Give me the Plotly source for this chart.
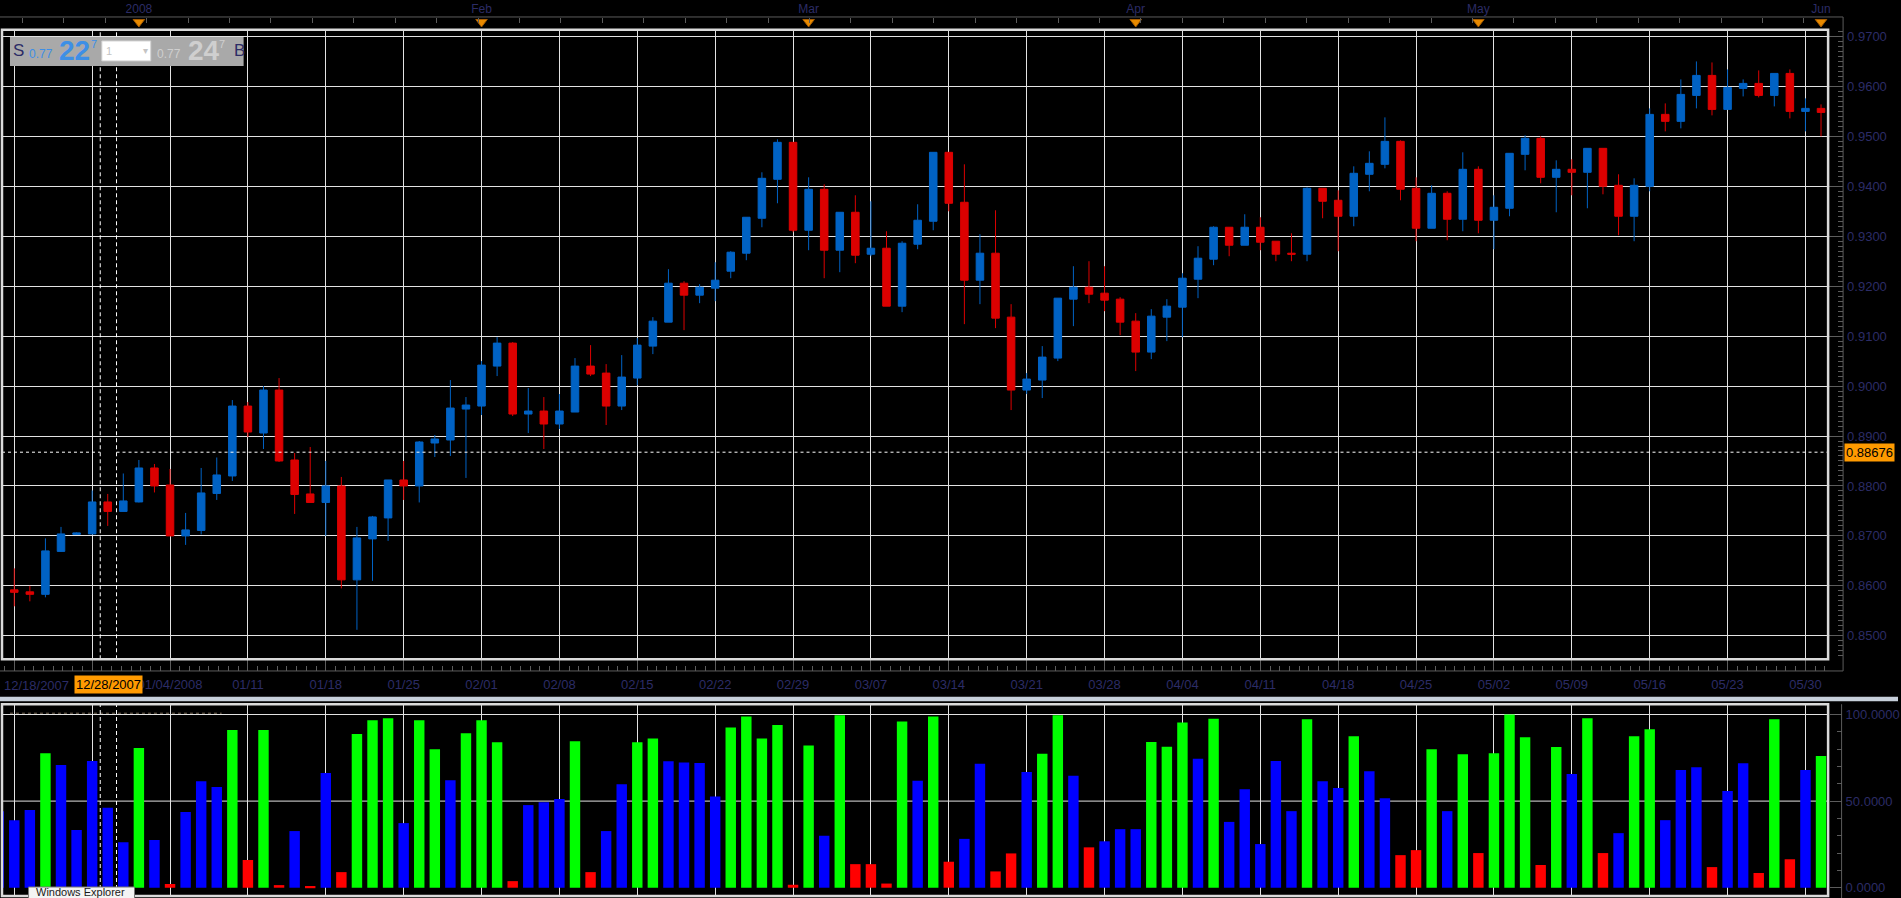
import numpy as np
import pandas as pd
import plotly.graph_objects as go

W, H = 1901, 898

# ---------------- data ----------------
dates = [d.strftime('%m/%d/%Y') for d in pd.bdate_range('2007-12-20', '2008-06-02')]

open_ = [0.8562, 0.8592, 0.8588, 0.8583, 0.8669, 0.8703, 0.8704, 0.8768, 0.8749, 0.8768,
         0.8836, 0.8802, 0.8700, 0.8711, 0.8785, 0.8820, 0.8960, 0.8906, 0.8992, 0.8852,
         0.8784, 0.8767, 0.8800, 0.8612, 0.8694, 0.8736, 0.8812, 0.8800, 0.8886, 0.8892,
         0.8954, 0.8960, 0.9040, 0.9086, 0.8944, 0.8950, 0.8924, 0.8948, 0.9040, 0.9026,
         0.8960, 0.9016, 0.9080, 0.9128, 0.9206, 0.9182, 0.9196, 0.9230, 0.9266, 0.9336,
         0.9414, 0.9488, 0.9312, 0.9394, 0.9272, 0.9348, 0.9264, 0.9276, 0.9160, 0.9284,
         0.9330, 0.9468, 0.9368, 0.9212, 0.9266, 0.9138, 0.8992, 0.9012, 0.9056, 0.9174,
         0.9198, 0.9186, 0.9174, 0.9130, 0.9068, 0.9138, 0.9158, 0.9214, 0.9254, 0.9318,
         0.9282, 0.9318, 0.9290, 0.9266, 0.9264, 0.9396, 0.9372, 0.9340, 0.9424, 0.9444,
         0.9490, 0.9396, 0.9316, 0.9386, 0.9334, 0.9434, 0.9332, 0.9356, 0.9464, 0.9496,
         0.9418, 0.9434, 0.9428, 0.9476, 0.9402, 0.9340, 0.9400, 0.9544, 0.9530, 0.9582,
         0.9622, 0.9554, 0.9596, 0.9606, 0.9582, 0.9626, 0.9550, 0.9556]
high = [0.8597, 0.8635, 0.8600, 0.8695, 0.8718, 0.8707, 0.8791, 0.8784, 0.8825, 0.8852,
        0.8844, 0.8834, 0.8746, 0.8836, 0.8857, 0.8972, 0.8968, 0.9000, 0.9016, 0.8866,
        0.8878, 0.8850, 0.8818, 0.8718, 0.8740, 0.8812, 0.8850, 0.8890, 0.8902, 0.9012,
        0.8978, 0.9050, 0.9098, 0.9088, 0.8996, 0.8978, 0.8984, 0.9056, 0.9082, 0.9044,
        0.9062, 0.9096, 0.9138, 0.9234, 0.9210, 0.9204, 0.9248, 0.9270, 0.9338, 0.9428,
        0.9494, 0.9488, 0.9418, 0.9404, 0.9348, 0.9382, 0.9370, 0.9310, 0.9290, 0.9364,
        0.9468, 0.9468, 0.9444, 0.9304, 0.9352, 0.9164, 0.9026, 0.9080, 0.9176, 0.9240,
        0.9250, 0.9240, 0.9178, 0.9146, 0.9154, 0.9174, 0.9226, 0.9280, 0.9320, 0.9318,
        0.9344, 0.9338, 0.9290, 0.9306, 0.9398, 0.9396, 0.9392, 0.9440, 0.9470, 0.9538,
        0.9492, 0.9418, 0.9402, 0.9390, 0.9468, 0.9440, 0.9382, 0.9466, 0.9502, 0.9500,
        0.9452, 0.9454, 0.9476, 0.9476, 0.9424, 0.9416, 0.9556, 0.9566, 0.9614, 0.9650,
        0.9648, 0.9634, 0.9614, 0.9632, 0.9626, 0.9634, 0.9576, 0.9564]
low = [0.8555, 0.8559, 0.8569, 0.8577, 0.8668, 0.8702, 0.8703, 0.8720, 0.8749, 0.8767,
       0.8787, 0.8700, 0.8682, 0.8703, 0.8772, 0.8810, 0.8898, 0.8874, 0.8848, 0.8744,
       0.8767, 0.8700, 0.8595, 0.8512, 0.8610, 0.8690, 0.8772, 0.8767, 0.8858, 0.8860,
       0.8816, 0.8942, 0.9020, 0.8940, 0.8906, 0.8874, 0.8914, 0.8948, 0.9020, 0.8922,
       0.8952, 0.9002, 0.9064, 0.9128, 0.9112, 0.9166, 0.9170, 0.9216, 0.9252, 0.9318,
       0.9366, 0.9308, 0.9272, 0.9216, 0.9228, 0.9246, 0.9260, 0.9160, 0.9148, 0.9274,
       0.9312, 0.9350, 0.9124, 0.9164, 0.9116, 0.8952, 0.8984, 0.8976, 0.9050, 0.9120,
       0.9166, 0.9150, 0.9102, 0.9030, 0.9054, 0.9090, 0.9098, 0.9176, 0.9242, 0.9260,
       0.9282, 0.9272, 0.9250, 0.9250, 0.9250, 0.9336, 0.9270, 0.9320, 0.9390, 0.9436,
       0.9372, 0.9290, 0.9316, 0.9292, 0.9310, 0.9306, 0.9274, 0.9340, 0.9432, 0.9406,
       0.9348, 0.9382, 0.9356, 0.9384, 0.9302, 0.9290, 0.9390, 0.9510, 0.9516, 0.9556,
       0.9542, 0.9554, 0.9580, 0.9578, 0.9560, 0.9536, 0.9510, 0.9500]
close = [0.8592, 0.8587, 0.8583, 0.8670, 0.8704, 0.8706, 0.8768, 0.8749, 0.8770, 0.8836,
         0.8800, 0.8700, 0.8712, 0.8786, 0.8822, 0.8960, 0.8908, 0.8992, 0.8850, 0.8783,
         0.8767, 0.8800, 0.8612, 0.8696, 0.8738, 0.8812, 0.8800, 0.8888, 0.8894, 0.8956,
         0.8962, 0.9042, 0.9086, 0.8944, 0.8950, 0.8924, 0.8950, 0.9040, 0.9024, 0.8960,
         0.9018, 0.9082, 0.9130, 0.9206, 0.9182, 0.9198, 0.9212, 0.9268, 0.9338, 0.9416,
         0.9488, 0.9312, 0.9394, 0.9272, 0.9348, 0.9262, 0.9276, 0.9160, 0.9286, 0.9332,
         0.9468, 0.9366, 0.9212, 0.9266, 0.9136, 0.8992, 0.9014, 0.9058, 0.9176, 0.9198,
         0.9184, 0.9172, 0.9128, 0.9068, 0.9140, 0.9160, 0.9216, 0.9256, 0.9318, 0.9282,
         0.9318, 0.9288, 0.9264, 0.9264, 0.9396, 0.9370, 0.9340, 0.9426, 0.9446, 0.9490,
         0.9394, 0.9316, 0.9386, 0.9334, 0.9434, 0.9332, 0.9358, 0.9466, 0.9496, 0.9418,
         0.9434, 0.9428, 0.9476, 0.9400, 0.9340, 0.9402, 0.9544, 0.9530, 0.9584, 0.9622,
         0.9554, 0.9598, 0.9606, 0.9582, 0.9626, 0.9550, 0.9556, 0.9548]

osc = [44.2, 39.0, 44.8, 77.7, 70.8, 33.3, 73.1, 46.2, 26.3, 80.6,
       27.5, 2.1, 43.7, 61.5, 58.1, 91.0, 16.0, 91.0, 1.5, 32.7,
       1.0, 66.2, 9.0, 88.7, 96.7, 97.9, 37.3, 96.7, 80.0, 62.1,
       89.2, 96.7, 84.0, 3.8, 47.7, 49.4, 51.2, 84.6, 9.0, 32.7,
       59.8, 84.0, 86.2, 73.0, 72.3, 72.0, 52.7, 92.5, 98.8, 86.2,
       93.9, 1.7, 82.1, 30.0, 99.5, 13.6, 13.6, 2.4, 95.9, 61.7,
       98.8, 15.0, 28.2, 71.5, 9.4, 19.8, 66.8, 77.3, 99.5, 64.6,
       23.3, 26.8, 33.8, 33.8, 84.1, 81.4, 95.4, 74.4, 97.5, 38.0,
       56.9, 25.2, 73.1, 44.2, 97.3, 61.5, 57.5, 87.5, 67.3, 51.7,
       18.8, 21.7, 80.0, 44.2, 77.1, 20.0, 77.7, 100.0, 86.9, 13.1,
       81.2, 65.6, 97.9, 20.0, 31.5, 87.5, 91.5, 39.0, 67.9, 69.6,
       11.9, 55.8, 71.9, 8.5, 97.3, 16.5, 67.9, 76.0]
# signal state of each oscillator bar: G = overbought, B = neutral, R = oversold
osc_state = ("BBBGBBBBBG" "BRBBBGRGRB" "RBRGGGBGGB" "GGGRBBBGRB"
             "BGGBBBBGGG" "GRGBGRRRGB" "GRBBRRBGGB" "RBBBGGGBGB"
             "BBBBGBBGBB" "RRGBGRGGGR" "GBGRBGGBBB" "RBBRGRBG")

week_dates = ['12/21/2007', '12/28/2007', '01/04/2008', '01/11/2008', '01/18/2008', '01/25/2008',
              '02/01/2008', '02/08/2008', '02/15/2008', '02/22/2008', '02/29/2008', '03/07/2008',
              '03/14/2008', '03/21/2008', '03/28/2008', '04/04/2008', '04/11/2008', '04/18/2008',
              '04/25/2008', '05/02/2008', '05/09/2008', '05/16/2008', '05/23/2008', '05/30/2008']
week_labels = ['', '', '01/04/2008', '01/11', '01/18', '01/25', '02/01', '02/08', '02/15',
               '02/22', '02/29', '03/07', '03/14', '03/21', '03/28', '04/04', '04/11', '04/18',
               '04/25', '05/02', '05/09', '05/16', '05/23', '05/30']
month_dates = ['01/02/2008', '02/01/2008', '03/03/2008', '04/01/2008', '05/01/2008', '06/02/2008']
month_labels = ['2008', 'Feb', 'Mar', 'Apr', 'May', 'Jun']

price_ticks = [0.85, 0.86, 0.87, 0.88, 0.89, 0.90, 0.91, 0.92, 0.93, 0.94, 0.95, 0.96, 0.97]
osc_ticks = [0, 50, 100]
cursor_price = 0.88676
cursor_date = '12/28/2007'
first_date_label = '12/18/2007'

# ---------------- helpers ----------------
def PX(x):
    return x / W


def PY(y):
    return 1 - y / H


idx = np.arange(len(dates))
week_idx = [dates.index(d) for d in week_dates]
month_idx = [dates.index(d) for d in month_dates]

BAR0_X, BAR_W = 14.3, 15.6           # pixel x of bar 1 and pixel spacing of bars
FR_L, FR_R = 2, 1831                  # plot frame left / right (pixels)
xr = [1 + (FR_L - BAR0_X) / BAR_W, 1 + (FR_R - BAR0_X) / BAR_W]

P_TOP, P_BOT = 28.7, 659.0            # main frame
Y97, PPU = 35.5, 5000.0               # pixel of 0.97, pixels per price unit
yr_main = [0.97 - (P_BOT - Y97) / PPU, 0.97 + (Y97 - P_TOP) / PPU]

L_TOP, L_BOT = 704.0, 896.0           # lower frame
Y0, OPU = 887.7, 1.734                # pixel of 0, pixels per osc unit
yr_low = [(Y0 - L_BOT) / OPU, (Y0 - L_TOP) / OPU]

NAVY = '#2c2c66'
GRID = '#e2e2e2'
AXC = '#5c5c5c'
FONT = 'Liberation Sans'
NARROW = 'Liberation Sans Narrow, Liberation Sans, Arial, sans-serif'

state_colors = {'G': '#00ff00', 'B': '#0000ff', 'R': '#ff0000'}
osc_colors = [state_colors[s] for s in osc_state]

fig = go.Figure()

fig.add_trace(go.Candlestick(
    x=idx, open=open_, high=high, low=low, close=close,
    xaxis='x', yaxis='y',
    increasing=dict(line=dict(color='#0062c4', width=1), fillcolor='#0062c4'),
    decreasing=dict(line=dict(color='#dc0000', width=1), fillcolor='#dc0000'),
    whiskerwidth=0, showlegend=False, hoverinfo='skip'))

fig.add_trace(go.Bar(
    x=idx, y=osc, xaxis='x2', yaxis='y2', width=0.67,
    marker=dict(color=osc_colors, line=dict(width=0)),
    showlegend=False, hoverinfo='skip'))

fig.add_trace(go.Scatter(
    x=month_idx, y=[21] * len(month_idx), xaxis='x3', yaxis='y3', mode='markers',
    marker=dict(symbol='triangle-down', size=10, color='#e88a00',
                line=dict(color='#a65c00', width=1)),
    showlegend=False, hoverinfo='skip'))

tickfont = dict(family=FONT, size=13, color=NAVY)

fig.update_layout(
    width=W, height=H,
    margin=dict(l=0, r=0, t=0, b=0),
    paper_bgcolor='black', plot_bgcolor='black',
    boxgap=0.31, hovermode=False, showlegend=False,
    xaxis=dict(
        domain=[PX(FR_L), PX(FR_R)], range=xr, anchor='free', position=PY(670.7),
        tickmode='array', tickvals=week_idx, ticktext=week_labels,
        ticks='inside', ticklen=12, tickcolor=AXC, tickwidth=1,
        showgrid=True, gridcolor=GRID, gridwidth=1, zeroline=False, showline=False,
        tickfont=tickfont, ticklabelstandoff=4,
        minor=dict(tickmode='linear', tick0=1, dtick=0.625, ticks='inside', ticklen=5,
                   tickcolor=AXC, showgrid=False),
        rangeslider=dict(visible=False)),
    yaxis=dict(
        domain=[PY(P_BOT), PY(P_TOP)], range=yr_main, side='right', anchor='free',
        position=PX(1846), tickmode='array', tickvals=price_ticks,
        ticktext=['%.4f' % v for v in price_ticks],
        ticks='inside', ticklen=14, tickcolor=AXC, showgrid=True, gridcolor=GRID,
        gridwidth=1, zeroline=False, showline=False, tickfont=tickfont,
        ticklabelstandoff=3,
        minor=dict(tickmode='linear', tick0=0.85, dtick=0.001, ticks='inside',
                   ticklen=5, tickcolor=AXC, showgrid=False)),
    xaxis2=dict(
        domain=[PX(FR_L), PX(FR_R)], range=xr, anchor='y2',
        tickmode='array', tickvals=week_idx, showticklabels=False, ticks='',
        showgrid=True, gridcolor=GRID, gridwidth=1, zeroline=False, showline=False),
    yaxis2=dict(
        domain=[PY(L_BOT), PY(L_TOP)], range=yr_low, side='right', anchor='free',
        position=PX(1844.5), tickmode='array', tickvals=osc_ticks, tickformat='.4f',
        ticks='inside', ticklen=12, tickcolor=AXC, showgrid=False, zeroline=False,
        showline=False, tickfont=tickfont, ticklabelstandoff=3,
        minor=dict(tickmode='linear', tick0=0, dtick=10, ticks='inside', ticklen=5,
                   tickcolor=AXC, showgrid=False)),
    xaxis3=dict(
        domain=[PX(FR_L), PX(FR_R)], range=xr, anchor='free', position=PY(16), side='top',
        tickmode='array', tickvals=month_idx, ticktext=month_labels, ticks='',
        showgrid=False, zeroline=False, showline=False,
        tickfont=dict(family=FONT, size=12, color=NAVY), ticklabelstandoff=2,
        minor=dict(tickmode='linear', tick0=1.52, dtick=2.66, ticks='inside', ticklen=5,
                   tickcolor=AXC, showgrid=False)),
    yaxis3=dict(domain=[PY(28), 1], range=[28, 0], anchor='x3', visible=False),
)

shapes = []
LC = '#dadada'
# axis rulers
shapes.append(dict(type='line', xref='paper', yref='paper', x0=0, x1=PX(1846),
                   y0=PY(16), y1=PY(16), line=dict(color=AXC, width=1)))
shapes.append(dict(type='line', xref='paper', yref='paper', x0=0, x1=PX(1846),
                   y0=PY(670.7), y1=PY(670.7), line=dict(color=AXC, width=1)))
shapes.append(dict(type='line', xref='paper', yref='paper', x0=PX(1846), x1=PX(1846),
                   y0=PY(16), y1=PY(670.7), line=dict(color=AXC, width=1)))
shapes.append(dict(type='line', xref='paper', yref='paper', x0=PX(1844.5), x1=PX(1844.5),
                   y0=PY(704), y1=0, line=dict(color=AXC, width=1)))
# separator band
shapes.append(dict(type='rect', xref='paper', yref='paper', x0=0, x1=1,
                   y0=PY(701), y1=PY(696.5), fillcolor='#c6cfda', line=dict(width=0)))
# lower panel horizontal grid
for v in osc_ticks[1:]:
    shapes.append(dict(type='line', xref='paper', yref='y2', x0=PX(FR_L), x1=PX(FR_R),
                       y0=v, y1=v, layer='below', line=dict(color=GRID, width=1)))
# faint indicator caption line in lower panel
shapes.append(dict(type='line', xref='paper', yref='paper', x0=PX(10), x1=PX(222),
                   y0=PY(713), y1=PY(713), line=dict(color='#7a6c5a', width=1, dash='dot')))
# crosshair
for cx in (100.4, 116.7):
    shapes.append(dict(type='line', xref='paper', yref='paper', x0=PX(cx), x1=PX(cx),
                       y0=PY(P_BOT), y1=PY(P_TOP), line=dict(color='white', width=1, dash='4px,3px')))
    shapes.append(dict(type='line', xref='paper', yref='paper', x0=PX(cx), x1=PX(cx),
                       y0=PY(L_BOT), y1=PY(L_TOP), line=dict(color='white', width=1, dash='4px,3px')))
for a, b in ((FR_L, 100.4), (116.7, FR_R)):
    shapes.append(dict(type='line', xref='paper', yref='y', x0=PX(a), x1=PX(b),
                       y0=cursor_price, y1=cursor_price,
                       line=dict(color='white', width=1, dash='3px,3px')))
# frames
shapes.append(dict(type='rect', xref='paper', yref='paper', x0=PX(FR_L), x1=PX(FR_R),
                   y0=PY(P_BOT), y1=PY(P_TOP), line=dict(color=LC, width=2.5)))
shapes.append(dict(type='rect', xref='paper', yref='paper', x0=PX(FR_L), x1=PX(FR_R),
                   y0=PY(L_BOT), y1=PY(L_TOP), line=dict(color=LC, width=2.5)))
# info box
shapes.append(dict(type='rect', xref='paper', yref='paper', x0=PX(10), x1=PX(244),
                   y0=PY(65), y1=PY(36), fillcolor='#a9a9a9', line=dict(width=0)))
shapes.append(dict(type='rect', xref='paper', yref='paper', x0=PX(102), x1=PX(151),
                   y0=PY(60), y1=PY(40), fillcolor='white', line=dict(color='#d0d0d0', width=1)))
# tooltip box
shapes.append(dict(type='rect', xref='paper', yref='paper', x0=PX(28.6), x1=PX(134.7),
                   y0=PY(910), y1=PY(887), fillcolor='#f4f4f4', line=dict(color='#767676', width=1)))
fig.update_layout(shapes=shapes)

ann = []


def txt(x, y, s, size, color, xanchor='left', bold=False, bg=None, yref='paper', fam=FONT):
    ann.append(dict(x=PX(x), y=(PY(y) if yref == 'paper' else y), xref='paper', yref=yref,
                    text=('<b>%s</b>' % s if bold else s), showarrow=False,
                    xanchor=xanchor, yanchor='middle',
                    font=dict(family=fam, size=size, color=color),
                    bgcolor=bg, borderpad=1))


txt(11, 50, 'S', 17, NAVY)
txt(27, 53, '0.77', 12, '#3d8fe6', fam=NARROW)
txt(57, 50, '22', 28, '#3d8fe6', bold=True, fam=NARROW)
txt(89, 43, '7', 11, '#3d8fe6')
txt(104, 50, '1', 11, '#c4c4c4')
txt(141, 50, '▾', 10, '#c4c4c4')
txt(155, 53, '0.77', 12, '#cfcfcf', fam=NARROW)
txt(186, 50, '24', 28, '#cfcfcf', bold=True, fam=NARROW)
txt(217, 43, '7', 11, '#cfcfcf')
txt(232, 50, 'B', 17, NAVY)

txt(2, 685, first_date_label, 13, NAVY)
txt(109, 684.5, cursor_date, 13, 'black', xanchor='center', bg='#ff9a00')
txt(1847, cursor_price, '%.5f' % cursor_price, 13, 'black', bg='#ff9a00', yref='y')
txt(34, 892, 'Windows Explorer', 11, '#1a1a1a')
fig.update_layout(annotations=ann)

fig.write_html('out.html', config={'displayModeBar': False})
